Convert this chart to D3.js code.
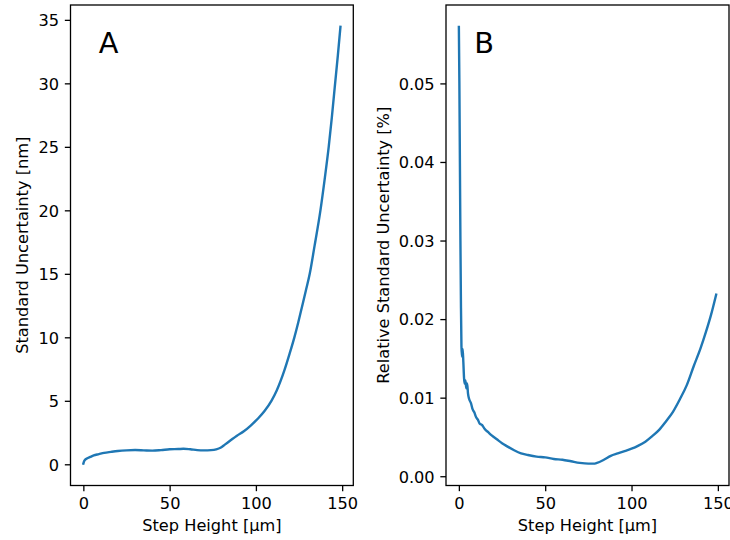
<!DOCTYPE html>
<html>
<head>
<meta charset="utf-8">
<script src="https://cdn.jsdelivr.net/npm/d3@7"></script>
<style>
  html, body { margin: 0; padding: 0; background: #fff; }
  svg { display: block; }
  text { font-family: "DejaVu Sans", sans-serif; }
</style>
</head>
<body>
<svg id="chart" width="730" height="540"></svg>
<script>
// ---- data ----
const panelLabels = ["A", "B"];
const xLabel = "Step Height [µm]";
const yLabelA = "Standard Uncertainty [nm]";
const yLabelB = "Relative Standard Uncertainty [%]";

const xTicks = [0, 50, 100, 150];
const yTicksA = [0, 5, 10, 15, 20, 25, 30, 35];
const yTicksB = [0, 0.01, 0.02, 0.03, 0.04, 0.05];

// Panel A: standard uncertainty [nm] vs step height [µm]
const stepA = [0, 0.3, 1, 2, 4, 6, 9, 12, 16, 20, 25, 30, 35, 40, 45, 50, 55, 58, 62, 66, 70, 74, 77, 79.5, 82, 85, 89, 93, 97, 101.5, 105, 109, 112, 116.5, 119.5, 122.3, 124.5, 126.8, 129, 131.2, 134, 137.4, 140, 142.2, 144, 145.7, 147.5, 149];
const uncA  = [0.05, 0.2, 0.35, 0.45, 0.58, 0.7, 0.8, 0.9, 0.98, 1.05, 1.1, 1.12, 1.1, 1.08, 1.12, 1.18, 1.2, 1.22, 1.18, 1.12, 1.1, 1.12, 1.18, 1.3, 1.55, 1.85, 2.25, 2.6, 3.05, 3.65, 4.2, 5.0, 5.8, 7.4, 8.7, 10, 11.15, 12.45, 13.7, 15, 17.2, 20, 22.6, 25, 27.3, 29.7, 32.2, 34.45];

// Panel B: relative standard uncertainty [%] vs step height [µm]
const stepB = [0, 0.3, 0.6, 0.9, 1.2, 1.5, 1.8, 2.2, 2.6, 3.0, 3.3, 3.8, 4.3, 4.8, 5.3, 6, 7, 8, 9, 10, 11, 12, 13.5, 15, 17, 19, 22, 25, 28, 32, 36, 40, 45, 50, 55, 60, 65, 70, 75, 78, 80, 84, 88, 92, 96, 100, 104, 108, 112, 116, 120, 124, 128, 132, 136, 140, 143, 146, 149];
const relB  = [0.0572, 0.05, 0.04, 0.03, 0.022, 0.0165, 0.0152, 0.0162, 0.0145, 0.0125, 0.0118, 0.0122, 0.0112, 0.0118, 0.0105, 0.0098, 0.0093, 0.0085, 0.0081, 0.0075, 0.0072, 0.0067, 0.0065, 0.0060, 0.0056, 0.0052, 0.0047, 0.0042, 0.0038, 0.0033, 0.0029, 0.0027, 0.0025, 0.0024, 0.0022, 0.0021, 0.0019, 0.0017, 0.0016, 0.0016, 0.0017, 0.0021, 0.0026, 0.0029, 0.0032, 0.0035, 0.0039, 0.0044, 0.0051, 0.0059, 0.0070, 0.0082, 0.0098, 0.0116, 0.0140, 0.0163, 0.0183, 0.0205, 0.0231];

// ---- layout ----
const svg = d3.select("#chart");
const FS = 16.2;
const tickLen = 5.67, tickPad = 5.67;
const lineColor = "#1f77b4";
const plotTop = 5, plotBottom = 485.5;

function padded(vals) {
  const [lo, hi] = d3.extent(vals);
  const m = (hi - lo) * 0.05;
  return [lo - m, hi + m];
}

function panel(opts) {
  const { left, right, xs, ys, yTicks, yFmt, yLabel, yLabelX, label } = opts;
  const g = svg.append("g");
  const x = d3.scaleLinear().domain(padded(xs)).range([left, right]);
  const y = d3.scaleLinear().domain(padded(ys)).range([plotBottom, plotTop]);

  const line = d3.line()
    .x((d, i) => x(xs[i]))
    .y((d, i) => y(ys[i]))
    .curve(d3.curveMonotoneX);

  g.append("path")
    .datum(xs)
    .attr("d", line)
    .attr("fill", "none")
    .attr("stroke", lineColor)
    .attr("stroke-width", 2.4)
    .attr("stroke-linejoin", "round")
    .attr("stroke-linecap", "square");

  // axes
  const xAxis = d3.axisBottom(x).tickValues(xTicks).tickSize(tickLen).tickPadding(tickPad).tickFormat(d3.format("d"));
  const yAxis = d3.axisLeft(y).tickValues(yTicks).tickSize(tickLen).tickPadding(tickPad).tickFormat(yFmt);

  const gx = g.append("g").attr("transform", `translate(0,${plotBottom})`).call(xAxis);
  const gy = g.append("g").attr("transform", `translate(${left},0)`).call(yAxis);
  [gx, gy].forEach(a => {
    a.select(".domain").remove();
    a.selectAll("line").attr("stroke", "#000").attr("stroke-width", 1.3);
    a.selectAll("text").attr("font-size", FS).attr("fill", "#000")
      .style("font-family", "'DejaVu Sans', sans-serif");
  });
  gx.selectAll("text").attr("dy", "0.76em");
  gy.selectAll("text").attr("dy", "0.36em");

  // frame
  g.append("rect")
    .attr("x", left).attr("y", plotTop)
    .attr("width", right - left).attr("height", plotBottom - plotTop)
    .attr("fill", "none").attr("stroke", "#000").attr("stroke-width", 1.3);

  // labels
  g.append("text")
    .attr("x", (left + right) / 2).attr("y", 531)
    .attr("text-anchor", "middle").attr("font-size", FS).attr("fill", "#000")
    .text(xLabel);

  g.append("text")
    .attr("transform", `translate(${yLabelX},${(plotTop + plotBottom) / 2}) rotate(-90)`)
    .attr("text-anchor", "middle").attr("font-size", FS).attr("fill", "#000")
    .text(yLabel);

  g.append("text")
    .attr("x", left + 0.1 * (right - left))
    .attr("y", plotBottom - 0.9 * (plotBottom - plotTop))
    .attr("font-size", 28.8).attr("fill", "#000")
    .text(label);
}

panel({ left: 70.5, right: 353.3, xs: stepA, ys: uncA, yTicks: yTicksA,
        yFmt: d3.format("d"), yLabel: yLabelA, yLabelX: 27.5, label: panelLabels[0] });
panel({ left: 446, right: 729, xs: stepB, ys: relB, yTicks: yTicksB,
        yFmt: d3.format(".2f"), yLabel: yLabelB, yLabelX: 389, label: panelLabels[1] });
</script>
</body>
</html>
